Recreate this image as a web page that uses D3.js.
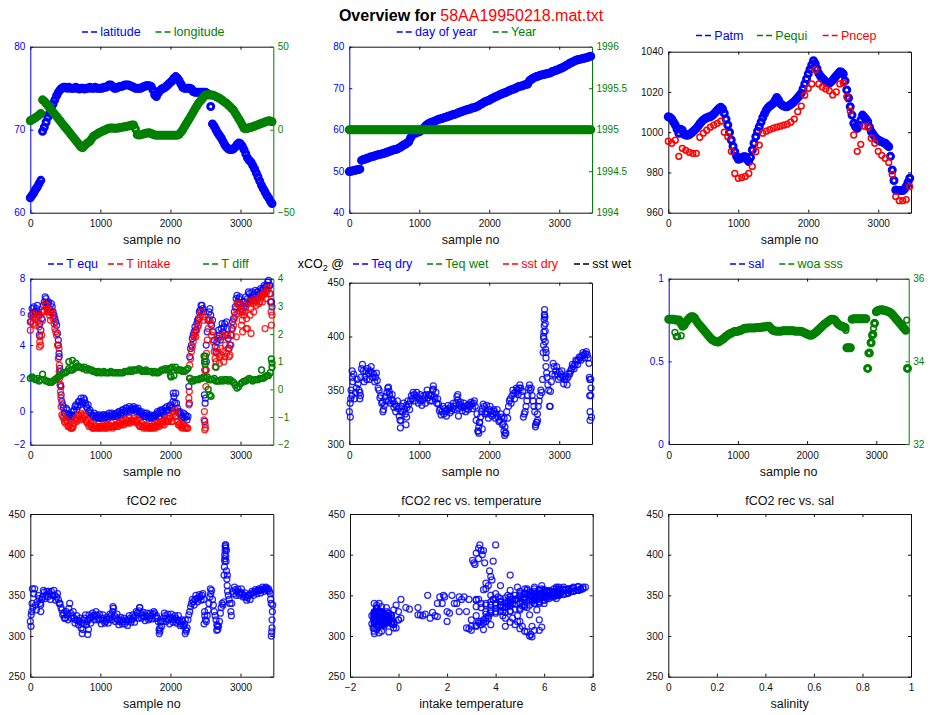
<!DOCTYPE html>
<html>
<head>
<meta charset="utf-8">
<script src="https://cdn.jsdelivr.net/npm/d3@7"></script>
<style>
  body { margin: 0; background: #fff; }
  svg text { font-family: "Liberation Sans", Arial, Helvetica, sans-serif; }
</style>
</head>
<body>
<svg id="fig" width="930" height="715"></svg>
<script>
// ---------------------------------------------------------------------------
// Cruise overview data: time series sampled every SAMPLE_STEP records.
// Noisy channels also carry an "…Half" list taken half a step later.
// ---------------------------------------------------------------------------
const fileName = "58AA19950218.mat.txt";
const SAMPLE_STEP = 25;
const HALF_OFFSET = 12.5;
const PNCEP_STEP = 50;
const SAMPLE_MAX = 3468;

const latitude = [
  61.8,62.1,62.4,62.8,63.1,63.5,63.9,69.8,70.3,70.9,
  71.5,72.0,72.6,73.1,73.6,74.1,74.5,74.8,75.0,75.1,
  75.1,75.0,75.1,75.0,75.0,75.0,75.1,75.0,74.9,75.0,
  75.0,74.9,75.0,75.0,75.1,75.0,75.0,75.1,75.0,75.0,
  75.0,75.0,75.1,75.1,75.2,75.4,75.4,75.2,75.0,75.0,
  75.1,75.2,75.2,75.3,75.4,75.4,75.4,75.3,75.2,75.1,
  75.0,75.0,75.0,75.0,75.1,75.2,75.3,75.3,75.3,75.2,
  74.8,74.2,74.0,74.4,74.7,74.9,75.0,75.1,75.3,75.5,
  75.7,75.9,76.2,76.4,76.2,75.9,75.5,75.1,75.0,75.0,
  75.0,75.0,74.9,74.6,74.5,74.5,74.5,74.5,74.5,74.5,
  74.5,74.4,74.2,72.8,70.7,70.4,70.0,69.6,69.3,69.0,
  68.6,68.2,67.9,67.7,67.6,67.6,67.7,67.9,68.2,68.4,
  68.3,68.0,67.6,67.1,66.6,66.3,66.1,65.7,65.3,64.8,
  64.3,63.8,63.3,62.9,62.5,62.1,61.8,61.4,61.1
];

const longitude = [
  5.4,6.0,6.6,7.3,8.0,8.8,9.8,18.0,17.2,15.9,
  14.6,13.3,12.0,10.6,9.3,8.0,6.7,5.4,4.0,2.7,
  1.4,0.1,-1.2,-2.6,-3.9,-5.2,-6.5,-7.8,-9.2,-10.5,
  -10.8,-9.5,-8.5,-7.8,-7.0,-5.5,-4.0,-3.3,-2.8,-2.0,
  -1.5,-1.0,-0.5,0.0,0.5,0.8,1.0,1.0,0.8,0.8,
  1.0,1.2,1.4,1.6,1.8,2.0,2.2,2.5,2.8,2.8,
  0.5,-3.0,-3.2,-3.0,-2.8,-2.5,-2.2,-2.0,-1.8,-2.3,
  -2.8,-3.2,-3.3,-3.3,-3.3,-3.3,-3.3,-3.3,-3.3,-3.3,
  -3.3,-3.3,-3.3,-3.3,-3.3,-2.8,-1.5,0.0,1.8,3.5,
  5.3,7.0,8.8,10.6,12.4,14.2,15.9,17.2,18.5,19.7,
  20.9,21.0,21.0,20.9,20.9,20.5,20.0,19.4,18.9,18.2,
  17.4,16.6,15.9,14.9,13.9,12.8,11.8,10.0,8.3,6.5,
  4.8,2.8,0.8,0.5,0.8,1.2,1.5,1.8,2.2,2.6,
  3.0,3.4,3.8,4.2,4.6,5.0,5.4,5.2,4.8
];

const dayOfYear = [
  49.9,50.0,50.1,50.2,50.3,50.4,50.5,52.6,52.8,52.9,
  53.1,53.2,53.4,53.5,53.6,53.8,53.9,54.0,54.1,54.2,
  54.3,54.5,54.6,54.8,54.9,55.1,55.2,55.3,55.5,55.7,
  56.0,56.3,56.5,56.8,57.1,58.0,58.7,59.0,59.2,59.4,
  59.5,59.8,60.2,60.6,61.1,61.4,61.6,61.8,61.9,62.1,
  62.3,62.5,62.6,62.7,62.9,63.0,63.1,63.3,63.4,63.6,
  63.7,63.8,64.0,64.2,64.3,64.5,64.6,64.8,64.9,65.0,
  65.2,65.3,65.4,65.6,65.8,66.1,66.3,66.6,66.8,67.0,
  67.1,67.4,67.6,67.8,68.0,68.2,68.4,68.6,68.8,68.9,
  69.1,69.3,69.5,69.7,69.8,70.0,70.2,70.4,70.5,70.6,
  70.8,70.9,71.0,71.8,72.1,72.4,72.6,72.8,72.9,73.1,
  73.2,73.3,73.4,73.5,73.6,73.7,74.0,74.1,74.3,74.4,
  74.6,74.8,75.0,75.2,75.5,75.7,76.0,76.2,76.4,76.6,
  76.8,76.9,77.0,77.1,77.2,77.3,77.4,77.6,77.7
];

const year = [
  1995,1995,1995,1995,1995,1995,1995,1995,1995,1995,
  1995,1995,1995,1995,1995,1995,1995,1995,1995,1995,
  1995,1995,1995,1995,1995,1995,1995,1995,1995,1995,
  1995,1995,1995,1995,1995,1995,1995,1995,1995,1995,
  1995,1995,1995,1995,1995,1995,1995,1995,1995,1995,
  1995,1995,1995,1995,1995,1995,1995,1995,1995,1995,
  1995,1995,1995,1995,1995,1995,1995,1995,1995,1995,
  1995,1995,1995,1995,1995,1995,1995,1995,1995,1995,
  1995,1995,1995,1995,1995,1995,1995,1995,1995,1995,
  1995,1995,1995,1995,1995,1995,1995,1995,1995,1995,
  1995,1995,1995,1995,1995,1995,1995,1995,1995,1995,
  1995,1995,1995,1995,1995,1995,1995,1995,1995,1995,
  1995,1995,1995,1995,1995,1995,1995,1995,1995,1995,
  1995,1995,1995,1995,1995,1995,1995,1995,1995
];

const patm = [
  1007.7,1007.3,1006.5,1005.0,1003.6,1001.5,999.5,1001.5,1001.0,999.0,
  998.6,998.5,998.8,999.5,1000.2,1001.0,1001.9,1003.0,1004.2,1005.2,
  1006.1,1006.7,1007.2,1007.5,1007.7,1008.3,1009.0,1010.0,1011.0,1011.8,
  1012.4,1011.5,1009.4,1006.5,1003.6,1000.0,996.1,993.0,990.3,988.0,
  986.5,986.8,987.3,987.8,987.8,986.5,985.4,987.5,991.2,994.5,
  997.8,1000.5,1002.7,1005.0,1007.3,1009.2,1011.0,1012.2,1013.0,1013.6,
  1014.3,1015.8,1017.3,1016.0,1014.3,1013.5,1013.0,1012.7,1012.7,1013.2,
  1013.8,1014.5,1015.2,1016.2,1017.2,1018.2,1019.3,1021.5,1024.0,1026.5,
  1029.0,1031.2,1033.4,1035.5,1034.0,1031.5,1029.2,1027.8,1026.8,1026.0,
  1025.0,1024.5,1024.3,1025.0,1025.9,1027.0,1028.0,1029.0,1030.0,1029.8,
  1028.9,1025.5,1021.0,1017.0,1012.7,1008.5,1004.4,1002.8,1001.9,1003.5,
  1006.0,1008.5,1007.5,1006.5,1005.2,1002.5,1000.3,999.0,997.8,996.8,
  996.1,995.6,995.2,994.8,994.5,993.6,992.8,988.0,981.2,976.0,
  971.3,971.0,971.0,971.0,971.0,971.8,973.0,975.0,977.1
];

const pncep = [
  995.5,994.5,996.0,988.0,992.0,991.0,990.0,989.5,989.5,997.5,
  999.5,1001.0,1002.5,1003.5,1004.4,1005.5,1000.0,997.8,990.5,979.5,
  977.1,977.5,978.0,979.5,983.0,990.3,993.6,999.5,1000.5,1001.3,
  1002.0,1002.5,1003.0,1003.5,1004.0,1005.0,1006.5,1010.2,1013.0,1018.4,
  1021.8,1024.0,1031.0,1024.0,1022.5,1021.5,1020.6,1018.5,1020.0,1024.0,
  1024.5,1017.6,1010.5,998.6,990.5,994.0,1003.0,1002.5,997.0,994.5,
  990.5,988.5,987.0,985.0,979.0,968.0,966.0,966.0,966.5,973.0
];

const tEqu = [
  5.4,6.2,6.3,5.9,6.4,5.8,4.9,6.0,6.6,6.8,
  6.5,6.2,6.5,6.0,5.6,5.2,4.0,2.4,0.6,0.2,
  -0.1,0.1,-0.3,-0.4,-0.3,0.1,0.4,0.3,0.6,0.8,
  0.5,0.7,0.3,0.4,0.1,-0.2,-0.3,-0.4,-0.2,-0.4,
  -0.3,-0.4,-0.2,-0.3,-0.3,-0.1,-0.2,-0.3,-0.2,-0.1,
  -0.2,0.0,-0.1,0.1,0.0,0.2,0.1,0.0,0.2,0.3,
  0.2,0.1,0.0,-0.1,-0.2,-0.1,-0.3,-0.2,-0.3,-0.4,
  -0.3,-0.2,-0.2,-0.1,0.0,-0.1,0.0,0.2,0.3,0.1,
  0.4,0.2,0.9,1.1,0.2,-0.1,-0.2,-0.3,-0.4,-0.3,
  -0.3,3.3,4.0,4.6,5.1,5.3,5.6,6.1,6.4,6.0,
  0.8,4.8,6.0,5.8,5.5,4.3,3.6,4.4,4.6,5.0,
  4.8,5.3,5.4,4.4,4.0,5.0,5.6,6.3,7.0,6.8,
  6.5,6.0,6.3,6.9,6.8,7.1,6.8,7.0,7.1,6.9,
  7.2,7.1,7.3,7.4,7.5,7.6,7.9,7.1,6.3
];
const tEquHalf = [
  5.8,5.9,6.0,6.2,6.0,5.3,5.6,6.4,6.9,6.5,
  6.6,6.0,6.3,5.8,5.4,4.7,3.3,1.5,0.4,-0.1,
  0.2,-0.2,-0.2,-0.2,0.0,0.3,0.1,0.6,0.4,0.6,
  0.8,0.5,0.2,0.0,-0.1,-0.3,-0.1,-0.3,-0.4,-0.2,
  -0.4,-0.2,-0.4,-0.2,-0.4,-0.3,-0.1,-0.2,-0.3,-0.3,
  0.0,-0.2,0.1,-0.1,0.2,0.0,0.3,0.1,0.1,0.1,
  0.0,0.2,-0.2,0.0,-0.3,-0.3,-0.1,-0.4,-0.2,-0.3,
  -0.4,-0.3,0.0,-0.3,0.1,0.1,-0.2,0.0,0.1,0.3,
  0.2,0.6,0.5,0.5,0.0,0.0,-0.4,-0.1,-0.2,-0.5,
  1.5,3.8,4.4,4.8,4.9,5.5,6.0,6.4,6.2,3.0,
  3.0,5.5,6.2,5.2,4.8,3.9,4.2,4.9,4.3,5.3,
  5.1,4.6,5.0,3.8,4.6,5.4,6.0,6.8,6.6,6.9,
  6.2,6.6,6.6,6.5,7.2,6.7,7.2,6.7,7.3,7.2,
  7.0,7.4,7.2,7.6,7.3,7.8,7.6,6.6
];

const tIntake = [
  4.9,5.8,5.9,5.2,5.8,5.1,4.0,5.5,6.1,6.4,
  6.0,5.8,6.1,5.6,5.0,4.6,3.2,1.6,-0.2,-0.4,
  -0.7,-0.6,-0.9,-1.0,-1.0,-0.7,-0.4,-0.5,-0.3,-0.1,
  -0.4,-0.3,-0.6,-0.5,-0.8,-0.9,-1.0,-1.0,-0.9,-1.0,
  -1.0,-1.0,-0.9,-1.0,-0.9,-0.8,-0.9,-1.0,-0.9,-0.8,
  -0.9,-0.7,-0.8,-0.6,-0.7,-0.5,-0.6,-0.7,-0.5,-0.4,
  -0.5,-0.6,-0.8,-0.9,-0.9,-0.8,-1.0,-0.9,-1.0,-1.0,
  -1.0,-0.9,-0.9,-0.8,-0.7,-0.8,-0.7,-0.5,-0.4,-0.6,
  -0.4,-0.6,0.0,0.1,-0.6,-0.8,-0.9,-0.9,-1.0,-1.0,
  -1.0,2.8,3.6,4.2,4.7,4.9,5.2,5.7,6.0,5.5,
  -1.0,4.3,5.6,5.3,4.8,3.6,3.0,3.5,3.3,3.4,
  3.6,3.3,3.5,3.8,3.4,4.6,5.2,5.8,6.5,6.4,
  6.0,5.5,5.8,6.3,5.0,6.6,6.2,6.5,6.6,6.4,
  6.8,6.6,6.9,7.0,7.1,7.2,7.5,6.6,5.8
];
const tIntakeHalf = [
  5.4,5.3,5.6,5.7,5.5,4.5,4.6,6.0,6.5,6.1,
  6.2,5.5,5.9,5.3,4.8,4.0,2.4,0.8,-0.3,-0.6,
  -0.5,-0.9,-0.8,-1.0,-0.9,-0.5,-0.6,-0.2,-0.5,-0.2,
  -0.2,-0.5,-0.7,-0.9,-0.7,-1.0,-0.8,-0.9,-1.0,-0.9,
  -0.9,-0.8,-1.0,-0.8,-1.0,-0.9,-0.7,-0.9,-0.8,-0.9,
  -0.7,-0.8,-0.6,-0.8,-0.5,-0.7,-0.4,-0.6,-0.6,-0.6,
  -0.7,-0.5,-0.9,-0.7,-1.0,-0.9,-0.8,-1.0,-0.9,-0.9,
  -0.8,-1.0,-0.7,-0.9,-0.6,-0.6,-0.8,-0.6,-0.6,-0.3,
  -0.6,-0.2,-0.3,-0.3,-0.8,-0.7,-1.0,-0.8,-0.9,-1.0,
  0.8,3.2,3.9,4.5,4.5,5.1,5.6,6.0,5.7,2.5,
  2.0,5.0,5.5,4.6,4.2,3.2,3.8,4.4,3.8,4.6,
  4.5,4.0,4.6,3.3,4.0,5.0,5.6,6.2,5.9,6.5,
  5.2,6.1,6.0,5.6,6.6,5.8,6.7,6.0,6.8,6.7,
  6.5,7.0,6.6,7.2,6.8,7.4,7.1,6.0
];

const tDiff = [
  0.4,0.45,0.4,0.35,0.4,0.3,0.35,0.55,0.35,0.3,
  0.3,0.25,0.25,0.3,0.35,0.4,0.45,0.5,0.55,0.6,
  0.6,0.65,0.75,0.7,0.7,0.75,0.8,0.85,0.8,0.8,
  0.75,0.8,0.7,0.75,0.7,0.7,0.65,0.65,0.6,0.65,
  0.6,0.6,0.65,0.6,0.6,0.6,0.65,0.6,0.6,0.6,
  0.6,0.6,0.6,0.6,0.65,0.65,0.65,0.7,0.65,0.7,
  0.7,0.7,0.75,0.7,0.65,0.65,0.7,0.65,0.65,0.65,
  0.6,0.65,0.6,0.6,0.65,0.7,0.7,0.75,0.7,0.75,
  0.75,0.8,0.5,0.8,0.7,0.7,0.7,0.65,0.65,0.7,
  0.75,0.4,0.3,0.3,0.35,0.35,0.35,0.4,0.4,0.45,
  1.2,0.45,0.35,0.35,0.35,0.4,0.3,0.3,0.3,0.35,
  0.3,0.35,0.35,0.3,0.35,0.3,0.25,0.15,0.05,0.1,
  0.2,0.25,0.3,0.3,0.35,0.4,0.35,0.3,0.35,0.35,
  0.35,0.4,0.4,0.4,0.45,0.5,0.5,0.6,0.8
];

const xco2TeqDry = [
  330,350,358,342,352,356,348,370,368,362,
  360,366,368,366,365,362,359,350,345,339,
  336,340,352,346,342,340,337,335,333,322,
  335,338,328,334,337,340,342,346,345,343,
  342,340,341,343,346,343,340,345,351,342,
  338,337,333,330,328,330,332,333,335,333,
  335,338,341,337,335,334,335,333,332,335,
  337,338,335,328,316,325,333,335,330,328,
  332,330,328,330,328,325,322,325,319,316,
  330,335,342,345,347,348,350,352,352,349,
  328,335,345,355,352,340,330,320,335,345,
  348,400,412,362,350,349,365,372,368,365,
  367,365,362,360,360,362,365,370,372,374,
  377,378,380,382,383,384,383,375,345
];
const xco2TeqDryHalf = [
  338,345,365,348,360,350,362,374,358,368,
  370,360,372,362,358,366,352,343,338,332,
  344,348,340,338,346,334,330,340,326,330,
  330,332,336,340,332,345,348,340,348,338,
  346,336,345,338,350,346,345,340,344,348,
  342,331,327,335,333,326,336,329,331,338,
  332,344,333,339,331,338,330,336,337,339,
  333,340,322,312,320,330,337,328,336,324,
  335,326,332,324,332,321,328,318,324,310,
  324,340,338,350,342,352,346,355,345,325,
  330,340,352,350,345,335,318,328,340,350,
  360,420,385,355,335,358,375,364,372,360,
  362,368,356,363,355,366,368,374,370,378,
  374,381,378,385,380,386,380,360
];

const woaSss = [
  35.02,35.02,35.02,35.02,35.0,35.0,35.0,34.92,34.85,34.88,
  34.95,35.0,35.05,35.08,35.08,35.05,34.98,34.92,34.87,34.82,
  34.77,34.72,34.67,34.62,34.57,34.53,34.5,34.48,34.47,34.47,
  34.5,34.53,34.56,34.6,34.63,34.66,34.68,34.7,34.72,34.72,
  34.73,34.74,34.76,34.78,34.8,34.8,34.81,34.81,34.81,34.81,
  34.81,34.82,34.82,34.82,34.83,34.83,34.84,34.85,34.85,34.8,
  34.76,34.74,34.73,34.73,34.73,34.73,34.74,34.74,34.74,34.74,
  34.74,34.74,34.74,34.73,34.73,34.73,34.73,34.72,34.7,34.68,
  34.66,34.64,34.63,34.64,34.67,34.7,34.74,34.78,34.82,34.86,
  34.9,34.93,34.96,34.99,35.02,35.02,35.0,34.95,34.9,34.87,
  34.85,34.84,34.82,34.33,34.33,34.33,35.02,35.03,35.03,35.03,
  35.03,35.03,35.03,35.03,35.03,33.83,34.2,34.45,34.65,34.92,
  35.2,35.23,35.24,35.25,35.24,35.23,35.22,35.2,35.18,35.15,
  35.1,35.05,35.0,34.95,34.9,34.85,34.8,34.75,33.83
];

const fco2Rec = [
  318,340,352,338,342,346,338,348,354,350,
  348,352,355,350,350,348,345,340,332,328,
  322,326,334,328,325,322,320,319,318,310,
  320,322,314,320,322,323,325,326,325,322,
  320,322,320,318,320,322,325,330,325,322,
  320,318,320,318,315,318,320,322,320,322,
  325,328,331,328,325,324,325,324,322,325,
  327,328,325,318,306,312,322,325,322,320,
  323,322,320,322,320,318,315,318,315,306,
  320,330,340,342,345,346,347,348,350,345,
  320,325,340,352,345,330,320,308,318,335,
  338,395,405,350,340,340,352,357,355,353,
  354,352,350,348,347,350,352,353,354,355,
  356,356,357,358,358,359,358,352,320
];
const fco2RecHalf = [
  326,335,358,332,350,340,345,356,346,355,
  355,345,350,356,344,352,340,335,326,322,
  330,320,340,322,330,316,325,314,322,316,
  315,326,318,326,316,328,320,330,320,327,
  315,326,316,323,316,327,320,334,318,327,
  314,323,315,322,320,313,325,317,326,317,
  330,322,335,322,329,319,328,320,328,321,
  330,322,322,308,318,318,328,318,327,315,
  327,317,325,316,325,313,320,312,320,310,
  326,336,345,338,350,342,351,344,352,330,
  318,332,348,356,338,325,314,312,328,340,
  342,412,375,345,330,355,360,350,358,350,
  358,348,353,344,350,345,355,350,357,352,
  358,353,360,355,360,356,355,340
];

// Individual records off the regular sampling: [sample no, value]
const tEquExtra = [[400,4.3],[410,3.5],[420,2.6],[430,1.6],[440,1.0],[2040,1.1],[2270,0.5],[2280,2.0],
  [2485,1.0],[2490,-0.6],[2495,0.5],[2505,2.5],[2510,4.0],[130,4.6],[3420,7.6],[3440,6.6]];
const tIntakeExtra = [[130,3.9],[135,4.2],[410,3.8],[415,2.8],[420,2.0],[430,1.2],[440,0.3],[2265,0.4],
  [2270,1.2],[2275,2.0],[2480,-0.5],[2485,0.0],[2490,-1.1],[2495,-0.8],[2505,1.5],[2510,2.5],[2515,3.5],
  [2640,2.7],[2700,2.9],[2760,3.0],[2940,4.5],[3030,4.8],[3080,5.0],[3150,4.7],[3350,5.0],[3440,5.2]];
const tDiffExtra = [[550,1.0],[600,1.05],[650,0.95],[2000,0.5],[2010,0.45],[2480,1.2],[2490,1.0],[2495,0.9],
  [2540,0.0],[2560,-0.2],[2580,-0.25],[2650,0.8],[3300,0.7],[3440,1.1],[3450,0.95]];
const xco2Extra = [[15,325],[20,342],[40,368],[45,362],[150,342],[160,345],[480,330],[560,353],[570,349],
  [730,315],[735,322],[810,318],[820,325],[1190,350],[1200,354],[1550,346],[1560,326],[1840,312],[1850,310],
  [1860,320],[1900,314],[2210,312],[2220,308],[2230,310],[2660,316],[2680,320],[2690,322],[2770,385],
  [2775,392],[2780,398],[2780,404],[2785,410],[2785,416],[2790,420],[2790,425],[2795,418],[2800,405],
  [2800,395],[2805,388],[2810,380],[2810,372],[2820,366],[2870,335],[3430,362],[3435,345],[3440,330],
  [3440,322],[3450,360],[3455,352],[3460,325]];
const fco2Extra = [[10,312],[20,330],[30,358],[150,330],[740,303],[750,308],[820,302],[830,308],[1180,336],
  [1560,335],[1840,303],[1850,310],[1860,318],[2210,303],[2220,308],[2480,315],[2490,325],[2570,358],
  [2660,307],[2670,312],[2765,375],[2770,385],[2775,392],[2775,400],[2780,405],[2780,410],[2785,412],
  [2790,408],[2790,398],[2795,392],[2800,380],[2805,370],[2810,362],[2815,355],[2870,325],[3430,345],
  [3440,300],[3445,305],[3450,310],[3455,330],[3460,338]];
const sssExtra = [[90,34.7],[110,34.6],[130,34.6],[180,34.62],[2560,34.75],[2580,34.33],[2610,34.33],
  [2870,33.83],[2880,34.2],[2900,34.2],[2915,34.45],[2935,34.62],[2960,34.8],[3440,35.0],[3455,33.83]];
// fCO2 rec against intake temperature: [temperature, fCO2]
const fco2VsTempExtra = [
  [3.05,393],[3.1,390],[3.15,388],[3.2,402],[3.3,408],[3.35,412],[3.4,405],[3.45,400],[3.55,390],[3.9,392],
  [3.75,380],[3.8,373],[3.85,369],[3.7,362],[3.6,358],[3.5,357],[3.6,365],[4.2,362],
  [0.1,345],[0.3,335],[0.45,333],[0.9,326],[1.0,325],[1.1,327],[1.2,350],[1.3,322],[1.4,329],[1.5,325],
  [1.6,324],[1.7,348],[1.8,340],[1.85,350],[1.9,348],[2.0,330],[2.1,328],[2.2,350],[2.3,340],[2.5,348],
  [2.6,345],[2.7,348],[2.9,345],[3.2,344],
  [2.8,310],[2.9,309],[3.0,307],[3.2,312],[3.5,316],[3.6,318],[3.7,322],[3.8,330],[5.3,305],[5.4,300],
  [5.45,302],[5.5,299],[5.6,307],[5.8,307],[5.1,312],[5.0,318],[4.7,322],[4.9,325],[4.3,330],[4.6,330],
  [4.0,340],[4.2,338],[4.4,342],[4.5,336],[4.8,345],[5.0,348],[5.2,344],[5.4,350],[5.6,352],[5.8,348],
  [6.0,354],[6.2,356],[6.4,352],[6.6,358],[6.8,356],[7.0,358],[7.2,359],[7.4,360],[7.6,360],[7.7,360],
  [4.9,360],[5.3,358],[5.9,362],[6.5,360],[3.9,345],[4.1,348],[4.3,335],[4.7,340],[5.1,337],[5.5,342],
  [5.7,345],[6.1,346],[6.3,350],[6.9,352],[7.3,356],[7.5,357],
  [-1.1,315],[-1.1,325],[-1.0,303],[-1.0,340],[-0.9,330],[-0.8,304],[-0.7,336],[-0.6,312],[-0.5,335],
  [-0.4,318],[-0.3,325],[-0.2,310],[-0.1,338],[0.0,320],[0.0,330],[-0.4,305],[-0.6,322],[-0.9,338],[-1.05,310],
  [3.8,332],[3.8,338],[3.8,342],[4.0,328],[4.0,334],[4.0,345],[4.2,330],[4.2,336],[4.2,342],[4.2,346],
  [4.4,329],[4.4,335],[4.4,347],[4.6,331],[4.6,337],[4.6,343],[4.6,348],[4.8,333],[4.8,339],[4.8,350],
  [5.0,334],[5.0,340],[5.0,352],[5.2,336],[5.2,348],[5.2,353],[5.4,338],[5.4,344],[5.4,354],
  [5.6,340],[5.6,346],[5.6,355],[5.8,342],[5.8,352],[5.8,356],[6.0,344],[6.0,349],[6.0,357],
  [6.2,346],[6.2,350],[6.2,354],[6.4,348],[6.4,355],[6.4,358],[6.6,350],[6.6,353],[6.6,356],
  [6.8,351],[6.8,358],[7.0,353],[7.0,356],[7.2,355],[7.2,360],[7.4,356],[7.4,361],[7.6,358],
  [3.3,316],[3.4,318],[3.5,320],[3.6,322],[3.7,325],[3.4,314],[3.2,313],[3.0,312],[3.6,327],
  [4.6,317],[4.8,314],[5.0,309],[5.2,306],[4.4,322],[5.5,312],[5.9,311]
];

// Axis ticks
const sampleTicks = [0, 1000, 2000, 3000];
const latTicks = [60, 70, 80];
const lonTicks = [-50, 0, 50];
const doyTicks = [40, 50, 60, 70, 80];
const yearTicks = [1994, 1994.5, 1995, 1995.5, 1996];
const pressureTicks = [960, 980, 1000, 1020, 1040];
const tempTicks = [-2, 0, 2, 4, 6, 8];
const tDiffTicks = [-2, -1, 0, 1, 2, 3, 4];
const xco2Ticks = [300, 350, 400, 450];
const salTicks = [0, 0.5, 1];
const sssTicks = [32, 34, 36];
const fco2Ticks = [250, 300, 350, 400, 450];
const intakeTempTicks = [-2, 0, 2, 4, 6, 8];
const salinityTicks = [0, 0.2, 0.4, 0.6, 0.8, 1];

// ---------------------------------------------------------------------------
// Drawing
// ---------------------------------------------------------------------------
const svg = d3.select("#fig");
const FONT = 12.5;
const TICK = 3;
const BLUE = "#0000ff", GREEN = "#008000", RED = "#ff0000", INK = "#111111";
const THICK = { r: 3, w: 3, o: 1 };
const MEDIUM = { r: 2.9, w: 1.5, o: 1 };
const THIN = { r: 3, w: 1.25, o: 0.85 };
const fmt = d3.format("");

const bySample = (values, step, offset = 0) => values.map((v, i) => [offset + i * step, v]);

function makePanel(box, xDomain, xTicks, left, right) {
  const g = svg.append("g");
  const x = d3.scaleLinear().domain(xDomain).range([box.x0, box.x1]);
  const yL = d3.scaleLinear().domain(left.domain).range([box.y1, box.y0]);
  const yR = right ? d3.scaleLinear().domain(right.domain).range([box.y1, box.y0]) : null;
  const axisG = (tx, ty, color) => g.append("g")
    .attr("transform", `translate(${tx},${ty})`)
    .attr("color", color)
    .attr("font-size", FONT)
    .attr("font-family", null);

  axisG(0, box.y0, INK).call(d3.axisTop(x).tickValues(xTicks)
    .tickSizeInner(-TICK).tickSizeOuter(0).tickFormat(() => ""));
  axisG(0, box.y1, INK).call(d3.axisBottom(x).tickValues(xTicks)
    .tickSizeInner(-TICK).tickSizeOuter(0).tickPadding(7.5).tickFormat(fmt));
  axisG(box.x0, 0, right ? left.color : INK).call(d3.axisLeft(yL).tickValues(left.ticks)
    .tickSizeInner(-TICK).tickSizeOuter(0).tickPadding(5).tickFormat(fmt));
  if (right) {
    axisG(box.x1, 0, right.color).call(d3.axisRight(yR).tickValues(right.ticks)
      .tickSizeInner(-TICK).tickSizeOuter(0).tickPadding(4.5).tickFormat(fmt));
  } else {
    axisG(box.x1, 0, INK).call(d3.axisRight(yL).tickValues(left.ticks)
      .tickSizeInner(-TICK).tickSizeOuter(0).tickFormat(() => ""));
  }
  g.selectAll("text").attr("font-family", null);
  const marks = svg.append("g");
  return { x, yL, yR, marks, box };
}

function dots(p, points, y, color, st) {
  p.marks.append("g")
    .attr("fill", "none").attr("stroke", color)
    .attr("stroke-width", st.w).attr("stroke-opacity", st.o)
    .selectAll("circle").data(points).join("circle")
    .attr("cx", d => p.x(d[0])).attr("cy", d => y(d[1])).attr("r", st.r);
}

function xLabel(p, text) {
  svg.append("text").attr("x", (p.box.x0 + p.box.x1) / 2).attr("y", p.box.y1 + 31.5)
    .attr("text-anchor", "middle").attr("font-size", FONT).attr("fill", INK).text(text);
}

function title(p, text) {
  svg.append("text").attr("x", (p.box.x0 + p.box.x1) / 2).attr("y", p.box.y0 - 9.5)
    .attr("text-anchor", "middle").attr("font-size", FONT).attr("fill", INK).text(text);
}

function legend(items, baseline) {
  items.forEach(it => {
    svg.append("line").attr("x1", it.x).attr("x2", it.x + 15)
      .attr("y1", baseline - 4).attr("y2", baseline - 4)
      .attr("stroke", it.color).attr("stroke-width", 1.3).attr("stroke-dasharray", "6,3");
    svg.append("text").attr("x", it.x + 18.3).attr("y", baseline)
      .attr("font-size", FONT).attr("fill", it.color).text(it.label);
  });
}

// Figure title
const head = svg.append("text").attr("x", 471).attr("y", 20.5)
  .attr("text-anchor", "middle").attr("font-size", 16);
head.append("tspan").attr("font-weight", "bold").attr("fill", "#000").text("Overview for ");
head.append("tspan").attr("fill", RED).text(fileName);

// 1: position
const p1 = makePanel({ x0: 30.3, x1: 273.3, y0: 46.7, y1: 212.7 }, [0, SAMPLE_MAX], sampleTicks,
  { domain: [60, 80], ticks: latTicks, color: BLUE }, { domain: [-50, 50], ticks: lonTicks, color: GREEN });
dots(p1, bySample(latitude, SAMPLE_STEP), p1.yL, BLUE, THICK);
dots(p1, bySample(longitude, SAMPLE_STEP), p1.yR, GREEN, THICK);
xLabel(p1, "sample no");
legend([{ x: 82, label: "latitude", color: BLUE }, { x: 155.5, label: "longitude", color: GREEN }], 36);

// 2: date
const p2 = makePanel({ x0: 349.3, x1: 592, y0: 46.7, y1: 212.7 }, [0, SAMPLE_MAX], sampleTicks,
  { domain: [40, 80], ticks: doyTicks, color: BLUE }, { domain: [1994, 1996], ticks: yearTicks, color: GREEN });
dots(p2, bySample(dayOfYear, SAMPLE_STEP), p2.yL, BLUE, THICK);
dots(p2, bySample(year, SAMPLE_STEP), p2.yR, GREEN, THICK);
xLabel(p2, "sample no");
legend([{ x: 396.7, label: "day of year", color: BLUE }, { x: 492.7, label: "Year", color: GREEN }], 36);

// 3: pressure
const p3 = makePanel({ x0: 668.3, x1: 911, y0: 51.7, y1: 212.7 }, [0, SAMPLE_MAX], sampleTicks,
  { domain: [960, 1040], ticks: pressureTicks });
dots(p3, bySample(patm, SAMPLE_STEP), p3.yL, BLUE, THICK);
dots(p3, bySample(pncep, PNCEP_STEP), p3.yL, RED, MEDIUM);
xLabel(p3, "sample no");
legend([{ x: 696, label: "Patm", color: BLUE }, { x: 757, label: "Pequi", color: GREEN },
  { x: 822.7, label: "Pncep", color: RED }], 39.5);

// 4: temperatures
const p4 = makePanel({ x0: 30.3, x1: 273.3, y0: 278.7, y1: 444.7 }, [0, SAMPLE_MAX], sampleTicks,
  { domain: [-2, 8], ticks: tempTicks, color: BLUE }, { domain: [-2, 4], ticks: tDiffTicks, color: GREEN });
dots(p4, bySample(tEqu, SAMPLE_STEP).concat(bySample(tEquHalf, SAMPLE_STEP, HALF_OFFSET), tEquExtra),
  p4.yL, BLUE, THIN);
dots(p4, bySample(tIntake, SAMPLE_STEP).concat(bySample(tIntakeHalf, SAMPLE_STEP, HALF_OFFSET), tIntakeExtra),
  p4.yL, RED, THIN);
dots(p4, bySample(tDiff, SAMPLE_STEP).concat(tDiffExtra), p4.yR, GREEN, MEDIUM);
xLabel(p4, "sample no");
legend([{ x: 48, label: "T equ", color: BLUE }, { x: 108, label: "T intake", color: RED },
  { x: 203, label: "T diff", color: GREEN }], 268);

// 5: xCO2
const p5 = makePanel({ x0: 349.3, x1: 592, y0: 282.7, y1: 444 }, [0, SAMPLE_MAX], sampleTicks,
  { domain: [300, 450], ticks: xco2Ticks });
dots(p5, bySample(xco2TeqDry, SAMPLE_STEP)
  .concat(bySample(xco2TeqDryHalf, SAMPLE_STEP, HALF_OFFSET), xco2Extra), p5.yL, BLUE, THIN);
xLabel(p5, "sample no");
const xco2Head = svg.append("text").attr("x", 297.7).attr("y", 268).attr("font-size", FONT).attr("fill", "#000");
xco2Head.append("tspan").text("xCO");
xco2Head.append("tspan").attr("font-size", 9).attr("dy", 3).text("2");
xco2Head.append("tspan").attr("dy", -3).text(" @");
legend([{ x: 353, label: "Teq dry", color: BLUE }, { x: 427, label: "Teq wet", color: GREEN },
  { x: 503, label: "sst dry", color: RED }, { x: 574, label: "sst wet", color: "#000" }], 268);

// 6: salinity
const p6 = makePanel({ x0: 668.7, x1: 908.7, y0: 278.7, y1: 444 }, [0, SAMPLE_MAX], sampleTicks,
  { domain: [0, 1], ticks: salTicks, color: BLUE }, { domain: [32, 36], ticks: sssTicks, color: GREEN });
dots(p6, bySample(woaSss, SAMPLE_STEP), p6.yR, GREEN, THICK);
dots(p6, sssExtra, p6.yR, GREEN, MEDIUM);
xLabel(p6, "sample no");
legend([{ x: 730, label: "sal", color: BLUE }, { x: 779.3, label: "woa sss", color: GREEN }], 268);

// 7: fCO2 rec
const p7 = makePanel({ x0: 30.3, x1: 273.3, y0: 514, y1: 676.7 }, [0, SAMPLE_MAX], sampleTicks,
  { domain: [250, 450], ticks: fco2Ticks });
dots(p7, bySample(fco2Rec, SAMPLE_STEP)
  .concat(bySample(fco2RecHalf, SAMPLE_STEP, HALF_OFFSET), fco2Extra), p7.yL, BLUE, THIN);
xLabel(p7, "sample no");
title(p7, "fCO2 rec");

// 8: fCO2 rec vs. intake temperature (same records as panels 4 and 7)
const p8 = makePanel({ x0: 350, x1: 592.7, y0: 514, y1: 676.7 }, [-2, 8], intakeTempTicks,
  { domain: [250, 450], ticks: fco2Ticks });
const tempPairs = tIntake.map((t, i) => [t, fco2Rec[i]])
  .concat(tIntakeHalf.map((t, i) => [t, fco2RecHalf[i]]), fco2VsTempExtra);
dots(p8, tempPairs, p8.yL, BLUE, THIN);
xLabel(p8, "intake temperature");
title(p8, "fCO2 rec vs. temperature");

// 9: fCO2 rec vs. salinity (no salinity recorded)
const p9 = makePanel({ x0: 668.3, x1: 911, y0: 514, y1: 676.7 }, [0, 1], salinityTicks,
  { domain: [250, 450], ticks: fco2Ticks });
xLabel(p9, "salinity");
title(p9, "fCO2 rec vs. sal");
</script>
</body>
</html>
